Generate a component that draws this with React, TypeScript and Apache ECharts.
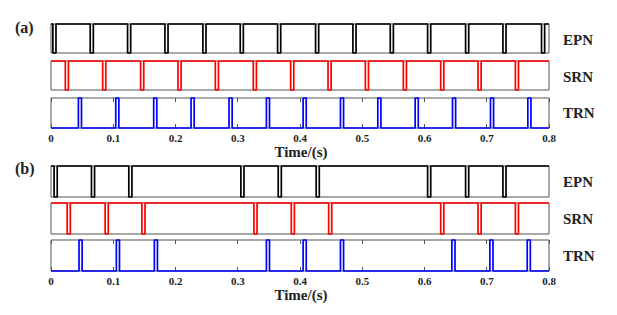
import React, { useEffect, useRef } from "react";
import * as echarts from "echarts";

// Pulse onset times (s)
const epnA = [0.003, 0.063, 0.123, 0.183, 0.244, 0.304, 0.364, 0.425, 0.485, 0.545, 0.605, 0.666, 0.726, 0.788];
const srnA = [0.023, 0.083, 0.144, 0.204, 0.264, 0.325, 0.385, 0.445, 0.505, 0.566, 0.626, 0.686, 0.746];
const trnA = [0.044, 0.104, 0.165, 0.225, 0.286, 0.346, 0.405, 0.465, 0.525, 0.585, 0.645, 0.706, 0.766];
const epnB = [0.005, 0.065, 0.125, 0.305, 0.365, 0.426, 0.605, 0.666, 0.726];
const srnB = [0.026, 0.087, 0.146, 0.326, 0.386, 0.446, 0.626, 0.686, 0.746];
const trnB = [0.045, 0.105, 0.166, 0.346, 0.405, 0.465, 0.644, 0.705, 0.765];
const pulseWidth = 0.005;
const tMax = 0.8;
const rowNames = ["EPN", "SRN", "TRN"];
const panelNames = ["(a)", "(b)"];

const FONT = "'Liberation Serif', 'Times New Roman', serif";

function pulses(times: number[], base: number, peak: number): number[][] {
  const pts: number[][] = [[0, base]];
  times.forEach((t) => {
    pts.push([t, base], [t, peak], [t + pulseWidth, peak], [t + pulseWidth, base]);
  });
  pts.push([tMax, base]);
  return pts;
}

export default function App() {
  const ref = useRef<HTMLDivElement>(null);
  useEffect(() => {
    if (!ref.current) return;
    const chart = echarts.init(ref.current, null, { renderer: "svg" });
    const rows = [
      { top: 24, height: 29, data: pulses(epnA, 1, 0), color: "#000000", trn: false },
      { top: 61, height: 29, data: pulses(srnA, 1, 0), color: "#ff0000", trn: false },
      { top: 98, height: 30, data: pulses(trnA, 0, 1), color: "#0000ff", trn: true },
      { top: 166, height: 31, data: pulses(epnB, 1, 0), color: "#000000", trn: false },
      { top: 203, height: 31, data: pulses(srnB, 1, 0), color: "#ff0000", trn: false },
      { top: 240, height: 31, data: pulses(trnB, 0, 1), color: "#0000ff", trn: true },
    ];
    const grid: any[] = [];
    const xAxis: any[] = [];
    const yAxis: any[] = [];
    const series: any[] = [];
    rows.forEach((r, i) => {
      grid.push({
        left: 51,
        width: 498,
        top: r.top,
        height: r.height,
        show: true,
        borderColor: "#555555",
        borderWidth: 1,
        backgroundColor: "transparent",
      });
      const xi = xAxis.length;
      xAxis.push({
        type: "value",
        gridIndex: i,
        min: 0,
        max: tMax,
        interval: 0.1,
        position: "bottom",
        axisLine: { show: false },
        splitLine: { show: false },
        axisTick: { show: r.trn, inside: true, length: 4, lineStyle: { color: "#555555" } },
        axisLabel: {
          show: r.trn,
          margin: 4,
          fontFamily: FONT,
          fontWeight: "bold",
          fontSize: 11,
          color: "#222222",
          formatter: (v: number) => (v === 0 ? "0" : v.toFixed(1)),
        },
      });
      if (r.trn) {
        xAxis.push({
          type: "value",
          gridIndex: i,
          min: 0,
          max: tMax,
          interval: 0.1,
          position: "top",
          axisLine: { show: false },
          splitLine: { show: false },
          axisTick: { show: true, inside: true, length: 4, lineStyle: { color: "#555555" } },
          axisLabel: { show: false },
        });
      }
      yAxis.push({
        type: "value",
        gridIndex: i,
        min: 0,
        max: 1,
        show: false,
      });
      series.push({
        type: "line",
        xAxisIndex: xi,
        yAxisIndex: i,
        data: r.data,
        showSymbol: false,
        symbol: "none",
        clip: false,
        lineStyle: { color: r.color, width: 1.7 },
      });
    });
    const graphic: any[] = [];
    const rowLabelY = [40, 77, 113, 182, 219, 256];
    rowLabelY.forEach((y, i) => {
      graphic.push({
        type: "text",
        x: 563,
        y,
        style: {
          text: rowNames[i % 3],
          font: `bold 15px ${FONT}`,
          fill: "#222222",
          verticalAlign: "middle",
          textAlign: "left",
        },
      });
    });
    [27, 168].forEach((y, i) => {
      graphic.push({
        type: "text",
        x: 15,
        y,
        style: {
          text: panelNames[i],
          font: `bold 16px ${FONT}`,
          fill: "#222222",
          verticalAlign: "middle",
          textAlign: "left",
        },
      });
    });
    [152, 295].forEach((y) => {
      graphic.push({
        type: "text",
        x: 301,
        y,
        style: {
          text: "Time/(s)",
          font: `bold 15px ${FONT}`,
          fill: "#222222",
          verticalAlign: "middle",
          textAlign: "center",
        },
      });
    });
    chart.setOption({
      animation: false,
      backgroundColor: "#ffffff",
      grid,
      xAxis,
      yAxis,
      series,
      graphic,
    });
    return () => chart.dispose();
  }, []);
  return (
    <div
      ref={ref}
      style={{ position: "fixed", left: 0, top: 0, width: 617, height: 315 }}
    />
  );
}
